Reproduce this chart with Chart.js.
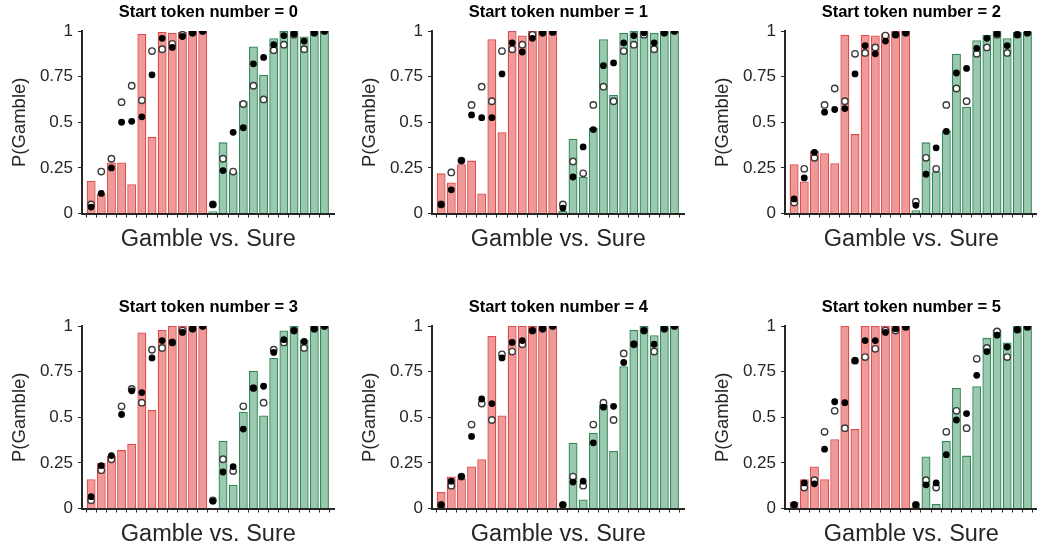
<!DOCTYPE html>
<html>
<head>
<meta charset="utf-8">
<script src="https://cdn.jsdelivr.net/npm/chart.js@4.4.1/dist/chart.umd.min.js"></script>
<style>
  html, body { margin: 0; padding: 0; background: #fff; overflow: hidden; }
  #wrap { position: relative; width: 1037px; height: 550px; }
  canvas { position: absolute; }
</style>
</head>
<body>
<div id="wrap">
  <canvas id="p0" width="340" height="260" style="left:0px;top:0px"></canvas>
  <canvas id="p1" width="340" height="260" style="left:350px;top:0px"></canvas>
  <canvas id="p2" width="340" height="260" style="left:703px;top:0px"></canvas>
  <canvas id="p3" width="340" height="260" style="left:0px;top:295px"></canvas>
  <canvas id="p4" width="340" height="260" style="left:350px;top:295px"></canvas>
  <canvas id="p5" width="340" height="260" style="left:703px;top:295px"></canvas>
</div>
<script>
// one panel per start token number
const startTokens = [0, 1, 2, 3, 4, 5];
// 24 conditions per panel: first 12 are the red (gamble) group, last 12 the green (sure) group
const nRed = 12;
const yTicks = [0, 0.25, 0.5, 0.75, 1];
const yTickLabels = ['0', '0.25', '0.5', '0.75', '1'];

// bar heights
const bars0 = [0.18, 0.11, 0.28, 0.28, 0.16, 0.985, 0.42, 0.995, 0.99, 0.995, 1, 1,
  0.013, 0.39, 0.23, 0.615, 0.915, 0.76, 0.96, 1, 1, 0.97, 1, 1];
const bars1 = [0.22, 0.17, 0.27, 0.29, 0.11, 0.955, 0.445, 1, 0.975, 1, 1, 1,
  0.015, 0.41, 0.20, 0.47, 0.955, 0.65, 0.99, 1, 1, 0.99, 1, 1];
const bars2 = [0.27, 0.175, 0.345, 0.33, 0.275, 0.98, 0.435, 0.98, 0.975, 0.985, 1, 1,
  0.018, 0.39, 0.23, 0.455, 0.875, 0.585, 0.95, 0.98, 1, 0.96, 0.995, 0.995];
const bars3 = [0.16, 0.25, 0.29, 0.32, 0.355, 0.965, 0.54, 0.98, 1, 1, 1, 1,
  0.004, 0.37, 0.13, 0.53, 0.755, 0.51, 0.825, 0.975, 1, 0.925, 1, 1];
const bars4 = [0.09, 0.175, 0.165, 0.23, 0.27, 0.945, 0.51, 1, 1, 1, 1, 1,
  0, 0.36, 0.05, 0.415, 0.57, 0.315, 0.78, 0.98, 1, 0.95, 1, 1];
const bars5 = [0.035, 0.16, 0.23, 0.16, 0.38, 1, 0.435, 1, 1, 1, 1, 1,
  0.01, 0.285, 0.025, 0.37, 0.66, 0.29, 0.67, 0.935, 0.98, 0.91, 1, 1];

// filled (black) dots
const filled0 = [0.035, 0.11, 0.25, 0.50, 0.505, 0.53, 0.76, 0.96, 0.91, 0.97, 0.99, 1,
  0.05, 0.235, 0.445, 0.47, 0.82, 0.855, 0.925, 0.975, 0.985, 0.945, 0.99, 1];
const filled1 = [0.05, 0.13, 0.29, 0.54, 0.525, 0.525, 0.765, 0.935, 0.885, 0.96, 0.99, 0.995,
  0.03, 0.20, 0.365, 0.46, 0.81, 0.825, 0.935, 0.975, 0.99, 0.935, 0.99, 1];
const filled2 = [0.08, 0.195, 0.335, 0.555, 0.57, 0.575, 0.765, 0.92, 0.875, 0.945, 0.98, 0.99,
  0.045, 0.215, 0.36, 0.45, 0.77, 0.795, 0.905, 0.96, 0.985, 0.92, 0.98, 0.99];
const filled3 = [0.065, 0.235, 0.29, 0.515, 0.645, 0.635, 0.825, 0.92, 0.91, 0.965, 0.985, 1,
  0.04, 0.20, 0.23, 0.435, 0.66, 0.67, 0.855, 0.925, 0.975, 0.915, 0.985, 1];
const filled4 = [0.02, 0.15, 0.175, 0.395, 0.60, 0.575, 0.825, 0.91, 0.92, 0.975, 0.985, 1,
  0.02, 0.145, 0.15, 0.36, 0.555, 0.56, 0.80, 0.90, 0.975, 0.90, 0.985, 1];
const filled5 = [0.02, 0.14, 0.135, 0.325, 0.585, 0.58, 0.81, 0.92, 0.92, 0.965, 0.985, 0.995,
  0.02, 0.13, 0.14, 0.295, 0.485, 0.52, 0.73, 0.86, 0.95, 0.885, 0.98, 0.995];

// open (white) dots
const open0 = [0.05, 0.23, 0.30, 0.61, 0.70, 0.62, 0.89, 0.90, 0.93, 0.98, 0.99, 1,
  0.05, 0.30, 0.23, 0.60, 0.70, 0.625, 0.895, 0.925, 0.98, 0.90, 0.99, 1];
const open1 = [0.05, 0.225, 0.29, 0.595, 0.695, 0.615, 0.89, 0.90, 0.925, 0.98, 0.99, 0.995,
  0.05, 0.285, 0.22, 0.595, 0.695, 0.615, 0.89, 0.925, 0.98, 0.90, 0.99, 1];
const open2 = [0.06, 0.245, 0.305, 0.595, 0.685, 0.615, 0.875, 0.88, 0.91, 0.975, 0.98, 0.99,
  0.065, 0.305, 0.245, 0.595, 0.685, 0.615, 0.875, 0.91, 0.98, 0.88, 0.98, 0.99];
const open3 = [0.045, 0.21, 0.27, 0.56, 0.655, 0.58, 0.87, 0.88, 0.91, 0.975, 0.985, 1,
  0.045, 0.27, 0.205, 0.56, 0.66, 0.58, 0.87, 0.91, 0.975, 0.88, 0.985, 1];
const open4 = [0.02, 0.125, 0.175, 0.46, 0.575, 0.485, 0.845, 0.86, 0.90, 0.975, 0.985, 1,
  0.02, 0.175, 0.125, 0.46, 0.58, 0.485, 0.85, 0.90, 0.975, 0.86, 0.985, 1];
const open5 = [0.02, 0.115, 0.155, 0.42, 0.535, 0.44, 0.81, 0.83, 0.875, 0.975, 0.975, 0.995,
  0.02, 0.155, 0.115, 0.42, 0.535, 0.44, 0.82, 0.88, 0.97, 0.83, 0.98, 0.995];

const allBars = [bars0, bars1, bars2, bars3, bars4, bars5];
const allFilled = [filled0, filled1, filled2, filled3, filled4, filled5];
const allOpen = [open0, open1, open2, open3, open4, open5];

const FONT = '"Liberation Sans", Arial, Helvetica, sans-serif';
const AXIS_COLOR = '#262626';
const RED_FILL = 'rgba(228, 80, 80, 0.58)';
const RED_EDGE = 'rgb(222, 78, 78)';
const GREEN_FILL = 'rgba(55, 148, 98, 0.5)';
const GREEN_EDGE = 'rgb(50, 136, 86)';

// bar positions are 1..24 on a linear axis
const positions = bars0.map((_, i) => i + 1);
const toPoints = vals => vals.map((v, i) => ({ x: positions[i], y: v }));

startTokens.forEach((tok, p) => {
  const ctx = document.getElementById('p' + p).getContext('2d');
  new Chart(ctx, {
    type: 'bar',
    data: {
      datasets: [
        {
          type: 'scatter',
          data: toPoints(allFilled[p]),
          pointRadius: 3.4,
          pointBackgroundColor: '#000',
          pointBorderColor: '#000',
          pointBorderWidth: 0,
          order: 1
        },
        {
          type: 'scatter',
          data: toPoints(allOpen[p]),
          pointRadius: 3.2,
          pointBackgroundColor: '#fff',
          pointBorderColor: '#3a3a3a',
          pointBorderWidth: 1.4,
          order: 2
        },
        {
          type: 'bar',
          data: toPoints(allBars[p]),
          backgroundColor: positions.map((_, i) => i < nRed ? RED_FILL : GREEN_FILL),
          borderColor: positions.map((_, i) => i < nRed ? RED_EDGE : GREEN_EDGE),
          borderWidth: 1.3,
          borderSkipped: 'bottom',
          categoryPercentage: 1,
          barPercentage: 0.88,
          order: 3
        }
      ]
    },
    options: {
      responsive: false,
      animation: false,
      layout: { padding: { top: 0, left: 0, right: 3, bottom: 1.5 } },
      plugins: {
        legend: { display: false },
        tooltip: { enabled: false },
        title: {
          display: true,
          fullSize: false,
          text: 'Start token number = ' + tok,
          color: '#000',
          font: { family: FONT, size: 16.5, weight: 'bold', lineHeight: 1.2 },
          padding: { top: 2.5, bottom: 8.7 }
        }
      },
      scales: {
        x: {
          type: 'linear',
          min: 0.1,
          max: 25,
          offset: false,
          afterBuildTicks: scale => { scale.ticks = positions.map(v => ({ value: v })); },
          afterFit: scale => { scale.height = 45; },
          ticks: { display: false, autoSkip: false },
          grid: { drawOnChartArea: false, drawTicks: true, tickLength: 4, color: AXIS_COLOR, lineWidth: 1 },
          border: { display: true, color: AXIS_COLOR, width: 2 },
          title: {
            display: true,
            text: 'Gamble vs. Sure',
            color: AXIS_COLOR,
            font: { family: FONT, size: 23.5, lineHeight: 1.2 },
            padding: { top: 0, bottom: 4.4 }
          }
        },
        y: {
          min: 0,
          max: 1,
          afterBuildTicks: scale => { scale.ticks = yTicks.map(v => ({ value: v })); },
          afterFit: scale => { scale.width = 82; },
          ticks: {
            color: AXIS_COLOR,
            padding: 5,
            font: { family: FONT, size: 17 },
            callback: (v) => yTickLabels[yTicks.indexOf(v)]
          },
          grid: { drawOnChartArea: false, drawTicks: true, tickLength: 4, color: AXIS_COLOR, lineWidth: 1 },
          border: { display: true, color: AXIS_COLOR, width: 2 },
          title: {
            display: true,
            text: 'P(Gamble)',
            color: AXIS_COLOR,
            font: { family: FONT, size: 18.5, lineHeight: 1.2 },
            padding: { top: 8.5, bottom: 0 }
          }
        }
      }
    }
  });
});
</script>
</body>
</html>
